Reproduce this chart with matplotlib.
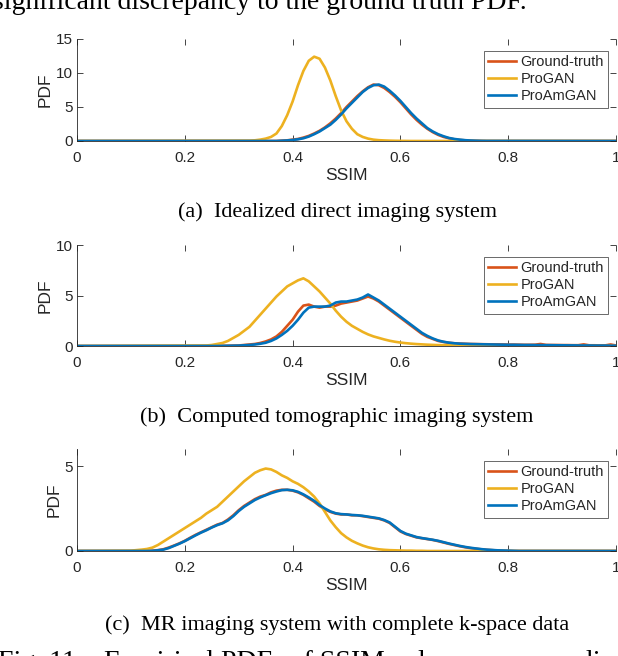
import numpy as np
import matplotlib
matplotlib.use("Agg")
import matplotlib.pyplot as plt

# MATLAB default colours
GT_COLOR = "#D95319"
PROGAN_COLOR = "#EDB120"
PROAMGAN_COLOR = "#0072BD"
AXIS_COLOR = "#262626"

labels = ["Ground-truth", "ProGAN", "ProAmGAN"]
captions = ["(a)  Idealized direct imaging system",
            "(b)  Computed tomographic imaging system",
            "(c)  MR imaging system with complete k-space data"]

# (a) idealized direct imaging, SSIM bins 0.32 .. 0.76
ssim_a = np.round(np.arange(0.32, 0.7601, 0.01), 2)
progan_a = [0.05, 0.1, 0.2, 0.35, 0.6, 1.1, 2.2, 3.8, 5.8, 8.2,
            10.3, 11.8, 12.4, 12.1, 10.8, 8.9, 6.6, 4.5, 2.9, 1.8,
            1.0, 0.6, 0.35, 0.2, 0.12, 0.08, 0.05, 0.03, 0.02, 0.01,
            0, 0, 0, 0, 0, 0, 0, 0, 0, 0, 0, 0, 0, 0, 0]
gt_a = [0, 0, 0, 0, 0, 0, 0.05, 0.1, 0.2, 0.3,
        0.5, 0.75, 1.1, 1.5, 2.0, 2.6, 3.3, 4.1, 5.0, 5.8,
        6.6, 7.3, 7.9, 8.3, 8.2, 7.8, 7.2, 6.5, 5.7, 4.8,
        3.9, 3.1, 2.4, 1.8, 1.3, 0.9, 0.6, 0.4, 0.25, 0.15,
        0.1, 0.05, 0.03, 0.01, 0]
proamgan_a = [0, 0, 0, 0, 0, 0, 0.04, 0.08, 0.15, 0.25,
              0.4, 0.65, 1.0, 1.4, 1.9, 2.4, 3.1, 3.9, 4.8, 5.6,
              6.4, 7.2, 7.8, 8.2, 8.3, 8.0, 7.4, 6.7, 5.9, 5.0,
              4.1, 3.3, 2.6, 1.9, 1.4, 1.0, 0.7, 0.45, 0.3, 0.2,
              0.12, 0.07, 0.04, 0.02, 0.01]

# (b) computed tomographic imaging, SSIM bins 0.24 .. 1.00
ssim_b = np.round(np.arange(0.24, 1.0001, 0.01), 2)
progan_b = [0.05, 0.1, 0.2, 0.3, 0.5, 0.8, 1.1, 1.5, 1.9, 2.5,
            3.1, 3.7, 4.3, 4.9, 5.4, 5.9, 6.2, 6.5, 6.7, 6.4,
            5.9, 5.4, 4.8, 4.2, 3.5, 2.9, 2.4, 2.0, 1.7, 1.4,
            1.15, 0.95, 0.8, 0.65, 0.52, 0.42, 0.34, 0.28, 0.23, 0.19,
            0.16, 0.13, 0.11, 0.09, 0.08, 0.07, 0.06, 0.06, 0.05, 0.05,
            0.04, 0.04, 0.04, 0.03, 0.03, 0.03, 0.02, 0.02, 0.02, 0.01,
            0.01, 0.01, 0, 0, 0, 0, 0, 0, 0, 0,
            0, 0, 0, 0, 0, 0, 0]
gt_b = [0, 0, 0, 0.02, 0.03, 0.04, 0.05, 0.1, 0.15, 0.2,
        0.3, 0.45, 0.65, 0.95, 1.4, 2.0, 2.6, 3.4, 4.0, 4.1,
        3.9, 3.8, 3.9, 3.9, 4.0, 4.2, 4.3, 4.4, 4.5, 4.7,
        4.9, 4.7, 4.4, 4.0, 3.6, 3.2, 2.8, 2.4, 2.0, 1.6,
        1.2, 0.9, 0.7, 0.5, 0.4, 0.32, 0.27, 0.24, 0.22, 0.2,
        0.19, 0.18, 0.17, 0.16, 0.16, 0.15, 0.14, 0.14, 0.13, 0.12,
        0.12, 0.13, 0.2, 0.11, 0.1, 0.1, 0.09, 0.09, 0.08, 0.08,
        0.16, 0.07, 0.07, 0.06, 0.06, 0.15, 0.05]
proamgan_b = [0, 0, 0, 0.01, 0.02, 0.03, 0.04, 0.07, 0.1, 0.15,
              0.22, 0.32, 0.5, 0.75, 1.1, 1.5, 2.0, 2.6, 3.3, 3.8,
              3.9, 3.9, 3.9, 4.0, 4.3, 4.4, 4.4, 4.5, 4.6, 4.8,
              5.1, 4.8, 4.5, 4.1, 3.7, 3.3, 2.9, 2.5, 2.1, 1.7,
              1.3, 1.0, 0.75, 0.55, 0.42, 0.33, 0.27, 0.23, 0.21, 0.19,
              0.18, 0.17, 0.16, 0.15, 0.14, 0.13, 0.12, 0.12, 0.11, 0.1,
              0.1, 0.09, 0.09, 0.08, 0.08, 0.07, 0.07, 0.06, 0.06, 0.05,
              0.05, 0.05, 0.04, 0.04, 0.04, 0.03, 0.03]

# (c) MR imaging, SSIM bins 0.10 .. 0.82
ssim_c = np.round(np.arange(0.10, 0.8201, 0.01), 2)
progan_c = [0.02, 0.05, 0.08, 0.12, 0.2, 0.35, 0.55, 0.75, 0.95, 1.15,
            1.35, 1.55, 1.75, 1.95, 2.2, 2.4, 2.6, 2.9, 3.2, 3.5,
            3.8, 4.1, 4.35, 4.6, 4.75, 4.85, 4.8, 4.65, 4.45, 4.3,
            4.1, 3.95, 3.75, 3.5, 3.2, 2.8, 2.3, 1.8, 1.4, 1.05,
            0.8, 0.6, 0.45, 0.32, 0.22, 0.15, 0.1, 0.07, 0.05, 0.04,
            0.03, 0.02, 0.02, 0.01, 0.01, 0, 0, 0, 0, 0,
            0, 0, 0, 0, 0, 0, 0, 0, 0, 0, 0, 0, 0]
gt_c = [0, 0, 0, 0, 0.02, 0.05, 0.1, 0.2, 0.32, 0.45,
        0.6, 0.78, 0.95, 1.1, 1.25, 1.4, 1.55, 1.65, 1.85, 2.1,
        2.4, 2.65, 2.85, 3.05, 3.2, 3.3, 3.45, 3.55, 3.6, 3.6,
        3.55, 3.45, 3.3, 3.1, 2.9, 2.65, 2.45, 2.3, 2.2, 2.15,
        2.15, 2.1, 2.1, 2.05, 2.0, 1.95, 1.9, 1.8, 1.65, 1.4,
        1.15, 1.0, 0.9, 0.8, 0.75, 0.7, 0.65, 0.58, 0.5, 0.42,
        0.35, 0.28, 0.22, 0.17, 0.13, 0.1, 0.07, 0.05, 0.03, 0.02,
        0.01, 0, 0]
proamgan_c = [0, 0, 0, 0, 0.01, 0.04, 0.08, 0.17, 0.3, 0.43,
              0.58, 0.75, 0.92, 1.08, 1.22, 1.38, 1.52, 1.63, 1.8, 2.05,
              2.35, 2.6, 2.8, 3.0, 3.15, 3.28, 3.4, 3.5, 3.58, 3.6,
              3.57, 3.48, 3.33, 3.15, 2.95, 2.7, 2.5, 2.33, 2.22, 2.17,
              2.15, 2.12, 2.1, 2.07, 2.02, 1.97, 1.92, 1.82, 1.68, 1.43,
              1.18, 1.02, 0.92, 0.82, 0.76, 0.71, 0.66, 0.6, 0.52, 0.44,
              0.37, 0.3, 0.24, 0.19, 0.15, 0.11, 0.08, 0.06, 0.04, 0.03,
              0.02, 0.01, 0]

panels = [
    (ssim_a, gt_a, progan_a, proamgan_a, 15, [0, 5, 10, 15]),
    (ssim_b, gt_b, progan_b, proamgan_b, 10, [0, 5, 10]),
    (ssim_c, gt_c, progan_c, proamgan_c, 6, [0, 5]),
]

# axes boxes in pixels (left, top, right, bottom) of a 618x656 figure
W, H = 618, 656
boxes = [(77, 39, 616, 141), (77, 245, 616, 346), (77, 449, 616, 551)]
caption_y = [212, 417, 625]

plt.rcParams["font.family"] = "Liberation Sans"
fig = plt.figure(figsize=(W / 100, H / 100), dpi=100)

for (ssim, gt, pg, pa, ymax, yticks), (l, t, r, b), cy, cap in zip(panels, boxes, caption_y, captions):
    ax = fig.add_axes([l / W, 1 - b / H, (r - l) / W, (b - t) / H])
    for vals, color, lab in zip([gt, pg, pa], [GT_COLOR, PROGAN_COLOR, PROAMGAN_COLOR], labels):
        # pad every series with zeros out to the ends of the SSIM range
        x = np.concatenate([[0.0], ssim, [1.0]])
        y = np.concatenate([[0.0], vals, [0.0]])
        ax.plot(x, y, color=color, lw=1.9, label=lab, solid_joinstyle="round")
    ax.set_xlim(0, 1)
    ax.set_ylim(0, ymax)
    ax.set_xticks([0, 0.2, 0.4, 0.6, 0.8, 1])
    ax.set_xticklabels(["0", "0.2", "0.4", "0.6", "0.8", "1"])
    ax.set_yticks(yticks)
    ax.tick_params(direction="in", length=4, width=0.6, color=AXIS_COLOR,
                   labelcolor=AXIS_COLOR, labelsize=11, top=True, right=True)
    ax.tick_params(axis="x", pad=7.5)
    ax.tick_params(axis="y", pad=3)
    for side in ["top", "right"]:
        ax.spines[side].set_visible(False)
    for side in ["left", "bottom"]:
        ax.spines[side].set_color(AXIS_COLOR)
        ax.spines[side].set_linewidth(0.6)
    ax.set_xlabel("SSIM", fontsize=12.5, color=AXIS_COLOR, labelpad=2)
    ax.set_ylabel("PDF", fontsize=12.5, color=AXIS_COLOR, labelpad=2)
    leg = ax.legend(loc="upper right", bbox_to_anchor=(608 / W, 1 - (t + 12) / H),
                    bbox_transform=fig.transFigure, fontsize=10.5, frameon=True,
                    fancybox=False, borderpad=0.3, handlelength=1.9,
                    handletextpad=0.3, labelspacing=0.2, borderaxespad=0)
    leg.get_frame().set_edgecolor(AXIS_COLOR)
    leg.get_frame().set_linewidth(0.6)
    for txt in leg.get_texts():
        txt.set_color(AXIS_COLOR)
    fig.text(337 / W, 1 - cy / H, cap, ha="center", va="center",
             fontsize=16, family="Liberation Serif", color="black")

# surrounding page text, cut by the crop
fig.text(527 / W, 1 - 9 / H, "significant discrepancy to the ground truth PDF.",
         ha="right", va="baseline", fontsize=20, family="Liberation Serif")
fig.text(-2 / W, 1 - 650 / H, "Fig. 11.   Empirical PDFs of SSIM values corresponding to the",
         ha="left", va="top", fontsize=20, family="Liberation Serif")

fig.savefig("out.png", dpi=100)
